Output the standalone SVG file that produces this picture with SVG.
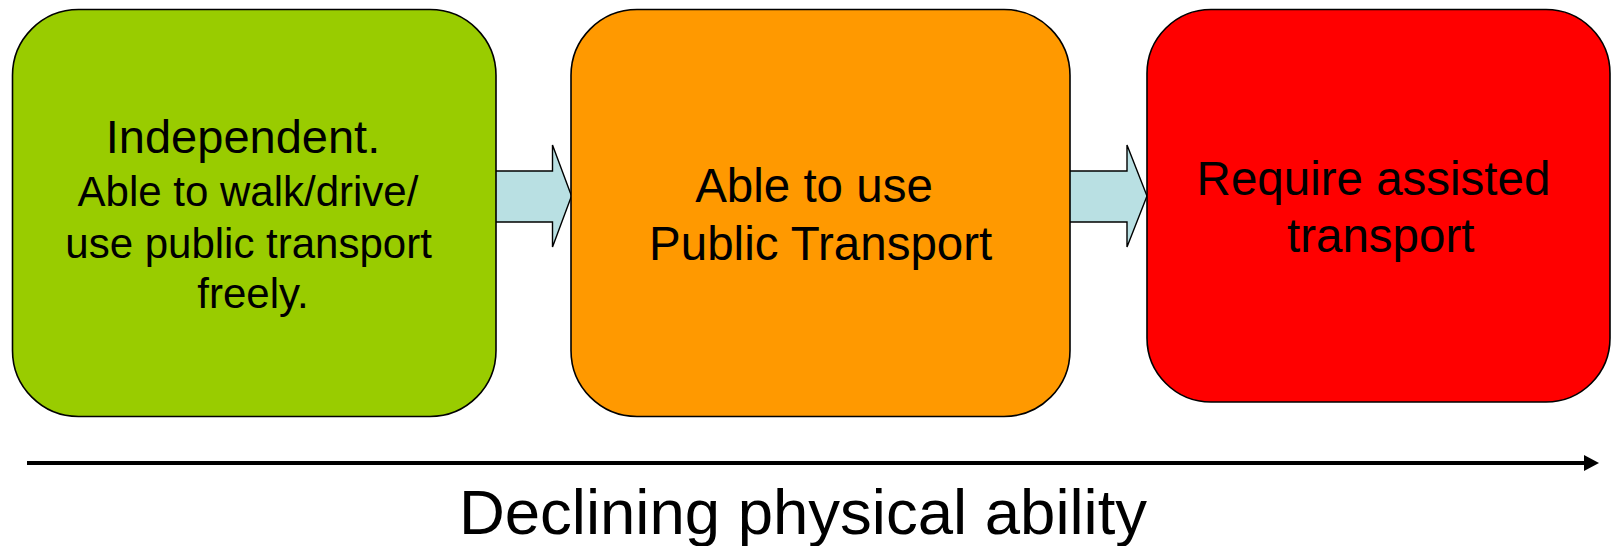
<svg xmlns="http://www.w3.org/2000/svg" width="1611" height="546" viewBox="0 0 1611 546">
<style>
.box{stroke:#000;stroke-width:1.6}
.t{font-family:"Liberation Sans",Arial,sans-serif;fill:#000;text-anchor:middle}
.blk{fill:#B9E0E3;stroke:#000;stroke-width:1.4;stroke-linejoin:miter}
</style>
<defs>
<marker id="ah" markerWidth="4" markerHeight="4" refX="0" refY="2" orient="auto" markerUnits="strokeWidth">
<path d="M0,0 L3.75,2 L0,4 Z" fill="#000"/>
</marker>
</defs>
<rect width="1611" height="546" fill="#fff"/>
<g id="connectors">
<path class="blk" d="M496,171 H552.5 V145 L571.5,196 L552.5,247 V222 H496"/>
<path class="blk" d="M1070,171 H1127 V145 L1147,196 L1127,247 V222 H1070"/>
<line x1="27" y1="463" x2="1584" y2="463" stroke="#000" stroke-width="4" marker-end="url(#ah)"/>
</g>
<g id="node-independent">
<rect class="box" x="12.5" y="9.5" width="483.5" height="407" rx="66" ry="66" fill="#99CC00"/>
<text class="t" x="243" y="153" font-size="47">Independent.</text>
<text class="t" x="248" y="206" font-size="42">Able to walk/drive/</text>
<text class="t" x="248.6" y="258" font-size="42">use public transport</text>
<text class="t" x="253" y="308" font-size="42">freely.</text>
</g>
<g id="node-public">
<rect class="box" x="571" y="9.5" width="499" height="407" rx="66" ry="66" fill="#FF9900"/>
<text class="t" x="814" y="202" font-size="47.5">Able to use</text>
<text class="t" x="820.7" y="260" font-size="47.5">Public Transport</text>
</g>
<g id="node-assisted">
<rect class="box" x="1147" y="9.5" width="463" height="392.5" rx="64" ry="64" fill="#FF0000"/>
<text class="t" x="1373.5" y="195" font-size="47.5">Require assisted</text>
<text class="t" x="1380.7" y="252" font-size="47.5">transport</text>
</g>
<g id="axis-label">
<text class="t" x="803" y="534" font-size="63.5">Declining physical ability</text>
</g>
</svg>
